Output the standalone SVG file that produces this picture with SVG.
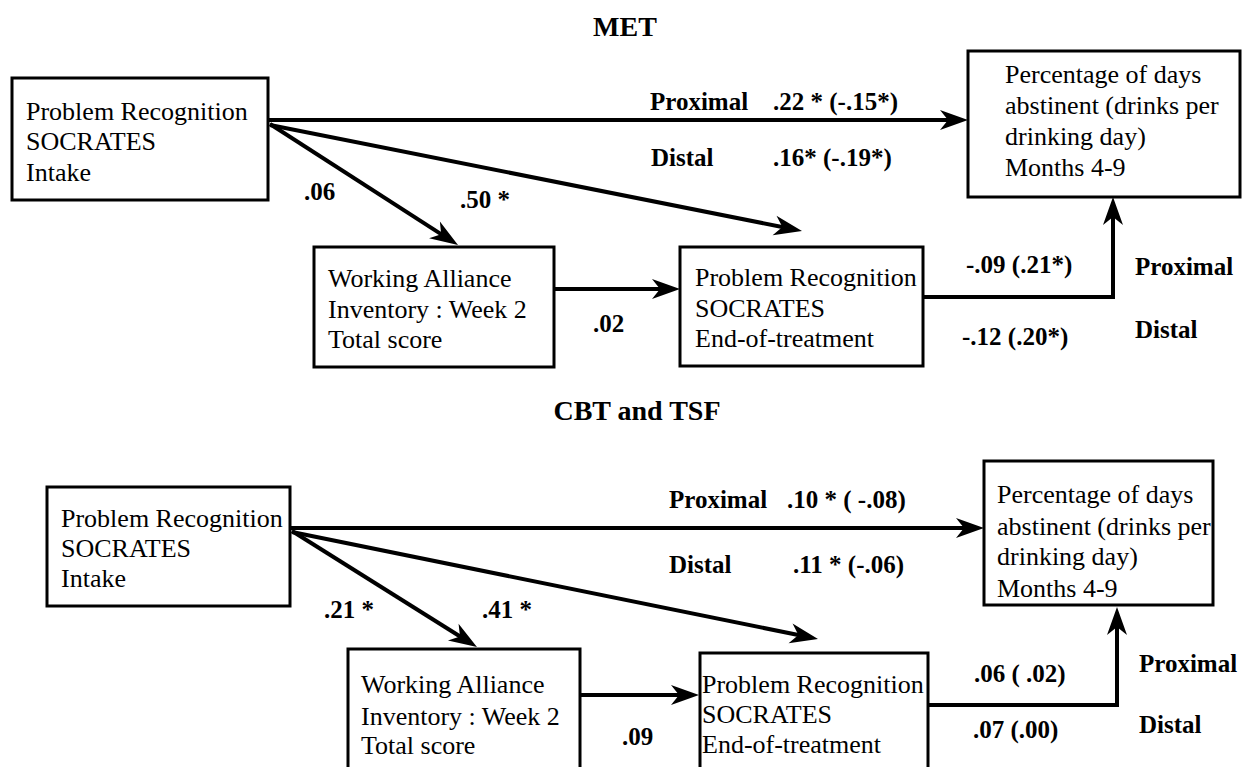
<svg xmlns="http://www.w3.org/2000/svg" width="1244" height="767" viewBox="0 0 1244 767">
<defs>
<marker id="ah" markerUnits="userSpaceOnUse" markerWidth="28" markerHeight="20" viewBox="0 0 28 20" refX="18" refY="10" orient="auto" overflow="visible">
<path d="M28,10 L0,0 L8,10 L0,20 Z" fill="#000"/>
</marker>
<style>
.box{fill:#fff;stroke:#000;stroke-width:3}
.t{font-family:"Liberation Serif","Times New Roman",serif;font-size:26px;fill:#000}
.l{font-family:"Liberation Serif","Times New Roman",serif;font-size:25px;font-weight:bold;fill:#000}
.h{font-family:"Liberation Serif","Times New Roman",serif;font-size:28px;font-weight:bold;fill:#000;text-anchor:middle}
.c{fill:none;stroke:#000;stroke-width:4;marker-end:url(#ah)}
</style>
</defs>
<rect width="1244" height="767" fill="#fff"/>
<text class="h" x="625" y="36">MET</text>
<text class="h" x="637" y="420">CBT and TSF</text>

<g id="connectors">
<line class="c" x1="268" y1="120" x2="958" y2="120"/>
<line class="c" x1="270" y1="124" x2="449.6" y2="239.6"/>
<line class="c" x1="270" y1="125" x2="792.2" y2="229"/>
<line class="c" x1="554" y1="289" x2="670" y2="289"/>
<polyline class="c" points="923,297 1113,297 1113,207"/>
<line class="c" x1="290" y1="528" x2="974" y2="528"/>
<line class="c" x1="292" y1="531" x2="468.5" y2="641.7"/>
<line class="c" x1="292" y1="532" x2="808.2" y2="637"/>
<line class="c" x1="580" y1="695" x2="689" y2="695"/>
<polyline class="c" points="928,705 1117,705 1117,617"/>
</g>

<g id="met-intake">
<rect class="box" x="12" y="78" width="256" height="122"/>
<text class="t" x="26" y="120">Problem Recognition</text>
<text class="t" x="26" y="150">SOCRATES</text>
<text class="t" x="26" y="181">Intake</text>
</g>
<g id="met-wai">
<rect class="box" x="314" y="247" width="240" height="120"/>
<text class="t" x="328" y="287">Working Alliance</text>
<text class="t" x="328" y="318">Inventory : Week 2</text>
<text class="t" x="328" y="348">Total score</text>
</g>
<g id="met-eot">
<rect class="box" x="680" y="247" width="243" height="119"/>
<text class="t" x="695" y="286">Problem Recognition</text>
<text class="t" x="695" y="317">SOCRATES</text>
<text class="t" x="695" y="347">End-of-treatment</text>
</g>
<g id="met-outcome">
<rect class="box" x="968" y="51" width="272" height="146"/>
<text class="t" x="1005" y="83">Percentage of days</text>
<text class="t" x="1005" y="114">abstinent (drinks per</text>
<text class="t" x="1005" y="145">drinking day)</text>
<text class="t" x="1005" y="176">Months 4-9</text>
</g>

<g id="met-labels">
<text class="l" x="650" y="110">Proximal</text>
<text class="l" x="773" y="110">.22 * (-.15*)</text>
<text class="l" x="651" y="166">Distal</text>
<text class="l" x="773" y="166">.16* (-.19*)</text>
<text class="l" x="304" y="200">.06</text>
<text class="l" x="460" y="208">.50 *</text>
<text class="l" x="593" y="332">.02</text>
<text class="l" x="966" y="273">-.09  (.21*)</text>
<text class="l" x="1135" y="275">Proximal</text>
<text class="l" x="962" y="345">-.12  (.20*)</text>
<text class="l" x="1135" y="338">Distal</text>
</g>

<g id="cbt-intake">
<rect class="box" x="47" y="487" width="243" height="119"/>
<text class="t" x="61" y="527">Problem Recognition</text>
<text class="t" x="61" y="557">SOCRATES</text>
<text class="t" x="61" y="587">Intake</text>
</g>
<g id="cbt-wai">
<rect class="box" x="348" y="649" width="232" height="140"/>
<text class="t" x="361" y="693">Working Alliance</text>
<text class="t" x="361" y="725">Inventory : Week 2</text>
<text class="t" x="361" y="754">Total score</text>
</g>
<g id="cbt-eot">
<rect class="box" x="700" y="653" width="228" height="140"/>
<text class="t" x="702" y="693">Problem Recognition</text>
<text class="t" x="702" y="723">SOCRATES</text>
<text class="t" x="702" y="753">End-of-treatment</text>
</g>
<g id="cbt-outcome">
<rect class="box" x="984" y="461" width="229" height="144"/>
<text class="t" x="997" y="503">Percentage of days</text>
<text class="t" x="997" y="535">abstinent (drinks per</text>
<text class="t" x="997" y="565">drinking day)</text>
<text class="t" x="997" y="597">Months 4-9</text>
</g>

<g id="cbt-labels">
<text class="l" x="669" y="508">Proximal</text>
<text class="l" x="787" y="508">.10 * ( -.08)</text>
<text class="l" x="669" y="573">Distal</text>
<text class="l" x="793" y="573">.11 * (-.06)</text>
<text class="l" x="324" y="618">.21 *</text>
<text class="l" x="482" y="618">.41 *</text>
<text class="l" x="622" y="745">.09</text>
<text class="l" x="974" y="682">.06 ( .02)</text>
<text class="l" x="1139" y="672">Proximal</text>
<text class="l" x="973" y="738">.07 (.00)</text>
<text class="l" x="1139" y="733">Distal</text>
</g>
</svg>
